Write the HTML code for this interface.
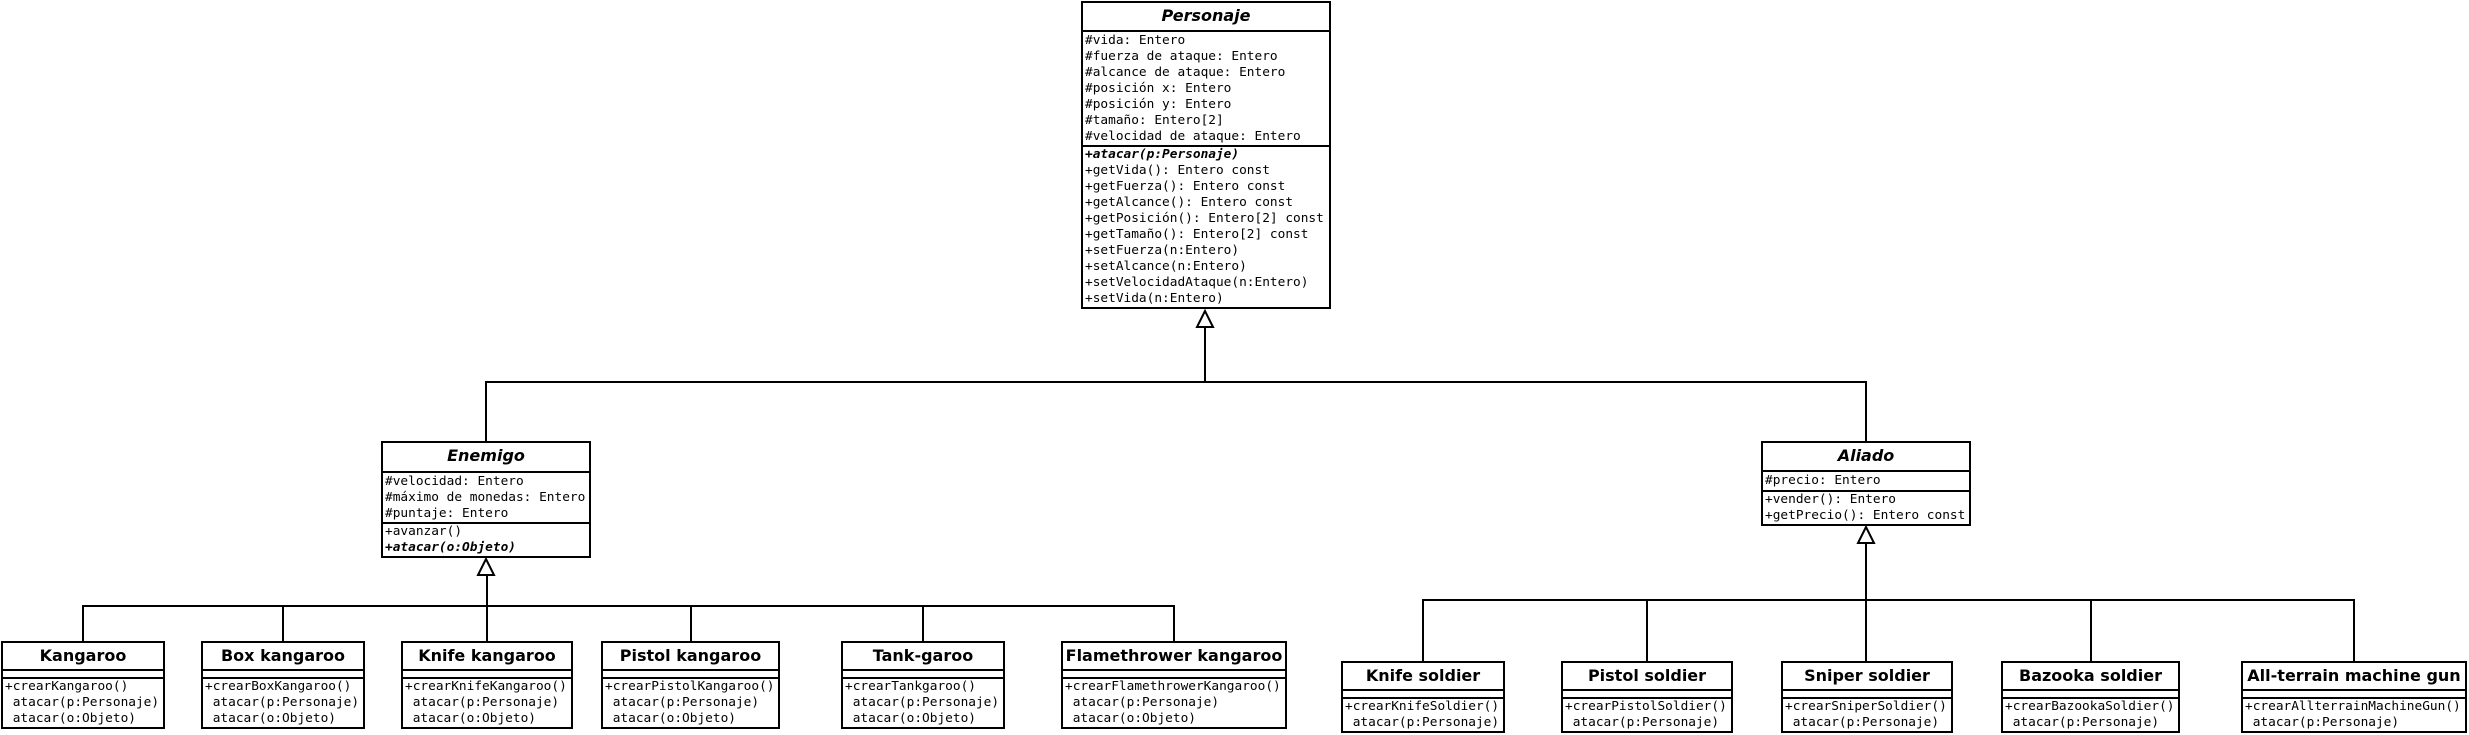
<!DOCTYPE html>
<html><head><meta charset="utf-8">
<style>
html,body{margin:0;padding:0;background:#fff;}
body{width:2469px;height:735px;position:relative;overflow:hidden;}
.b{position:absolute;box-sizing:border-box;border:2px solid #000;background:#fff;display:flex;flex-direction:column;}
.h{box-sizing:border-box;height:28px;font:bold 16px "DejaVu Sans","Liberation Sans",sans-serif;text-align:center;line-height:26px;white-space:nowrap;}
.i{font-style:italic;}
.s{border-top:2px solid #000;box-sizing:border-box;padding-left:2px;font:12.8px "DejaVu Sans Mono","Liberation Mono",monospace;line-height:16px;white-space:pre;}
.e{height:8px;}
.f{flex:1;}
.bi{font-weight:bold;font-style:italic;}
svg{position:absolute;left:0;top:0;}
</style></head><body>
<svg width="2469" height="735" viewBox="0 0 2469 735">
<g stroke="#000" stroke-width="2" fill="none">
<polyline points="486,441 486,382 1866,382 1866,441"/>
<line x1="1205" y1="327" x2="1205" y2="382"/>
<polygon points="1205,311 1197,327 1213,327" fill="#fff"/>
<polyline points="83,641 83,606 1174,606 1174,641"/>
<line x1="283" y1="606" x2="283" y2="641"/>
<line x1="487" y1="575" x2="487" y2="641"/>
<line x1="691" y1="606" x2="691" y2="641"/>
<line x1="923" y1="606" x2="923" y2="641"/>
<polygon points="486,559 478,575 494,575" fill="#fff"/>
<polyline points="1423,661 1423,600 2354,600 2354,661"/>
<line x1="1647" y1="600" x2="1647" y2="661"/>
<line x1="1866" y1="543" x2="1866" y2="661"/>
<line x1="2091" y1="600" x2="2091" y2="661"/>
<polygon points="1866,527 1858,543 1874,543" fill="#fff"/>
</g></svg>

<div class="b" style="left:1081px;top:1px;width:250px;height:308px;">
<div class="h i">Personaje</div>
<div class="s" style="height:116px;padding-top:1px">#vida: Entero
#fuerza de ataque: Entero
#alcance de ataque: Entero
#posición x: Entero
#posición y: Entero
#tamaño: Entero[2]
#velocidad de ataque: Entero</div>
<div class="s f"><span class="bi">+atacar(p:Personaje)</span>
+getVida(): Entero const
+getFuerza(): Entero const
+getAlcance(): Entero const
+getPosición(): Entero[2] const
+getTamaño(): Entero[2] const
+setFuerza(n:Entero)
+setAlcance(n:Entero)
+setVelocidadAtaque(n:Entero)
+setVida(n:Entero)</div>
</div>

<div class="b" style="left:381px;top:441px;width:210px;height:117px;">
<div class="h i">Enemigo</div>
<div class="s" style="height:52px;padding-top:1px">#velocidad: Entero
#máximo de monedas: Entero
#puntaje: Entero</div>
<div class="s f">+avanzar()
<span class="bi">+atacar(o:Objeto)</span></div>
</div>

<div class="b" style="left:1761px;top:441px;width:210px;height:85px;">
<div class="h i">Aliado</div>
<div class="s" style="height:20px;padding-top:1px">#precio: Entero</div>
<div class="s f">+vender(): Entero
+getPrecio(): Entero const</div>
</div>

<div class="b" style="left:1px;top:641px;width:164px;height:88px;"><div class="h">Kangaroo</div><div class="s e"></div><div class="s f">+crearKangaroo()
 atacar(p:Personaje)
 atacar(o:Objeto)</div></div>
<div class="b" style="left:201px;top:641px;width:164px;height:88px;"><div class="h">Box kangaroo</div><div class="s e"></div><div class="s f">+crearBoxKangaroo()
 atacar(p:Personaje)
 atacar(o:Objeto)</div></div>
<div class="b" style="left:401px;top:641px;width:172px;height:88px;"><div class="h">Knife kangaroo</div><div class="s e"></div><div class="s f">+crearKnifeKangaroo()
 atacar(p:Personaje)
 atacar(o:Objeto)</div></div>
<div class="b" style="left:601px;top:641px;width:179px;height:88px;"><div class="h">Pistol kangaroo</div><div class="s e"></div><div class="s f">+crearPistolKangaroo()
 atacar(p:Personaje)
 atacar(o:Objeto)</div></div>
<div class="b" style="left:841px;top:641px;width:164px;height:88px;"><div class="h">Tank-garoo</div><div class="s e"></div><div class="s f">+crearTankgaroo()
 atacar(p:Personaje)
 atacar(o:Objeto)</div></div>
<div class="b" style="left:1061px;top:641px;width:226px;height:88px;"><div class="h">Flamethrower kangaroo</div><div class="s e"></div><div class="s f">+crearFlamethrowerKangaroo()
 atacar(p:Personaje)
 atacar(o:Objeto)</div></div>

<div class="b" style="left:1341px;top:661px;width:164px;height:72px;"><div class="h">Knife soldier</div><div class="s e"></div><div class="s f">+crearKnifeSoldier()
 atacar(p:Personaje)</div></div>
<div class="b" style="left:1561px;top:661px;width:172px;height:72px;"><div class="h">Pistol soldier</div><div class="s e"></div><div class="s f">+crearPistolSoldier()
 atacar(p:Personaje)</div></div>
<div class="b" style="left:1781px;top:661px;width:172px;height:72px;"><div class="h">Sniper soldier</div><div class="s e"></div><div class="s f">+crearSniperSoldier()
 atacar(p:Personaje)</div></div>
<div class="b" style="left:2001px;top:661px;width:179px;height:72px;"><div class="h">Bazooka soldier</div><div class="s e"></div><div class="s f">+crearBazookaSoldier()
 atacar(p:Personaje)</div></div>
<div class="b" style="left:2241px;top:661px;width:226px;height:72px;"><div class="h">All-terrain machine gun</div><div class="s e"></div><div class="s f">+crearAllterrainMachineGun()
 atacar(p:Personaje)</div></div>
</body></html>
